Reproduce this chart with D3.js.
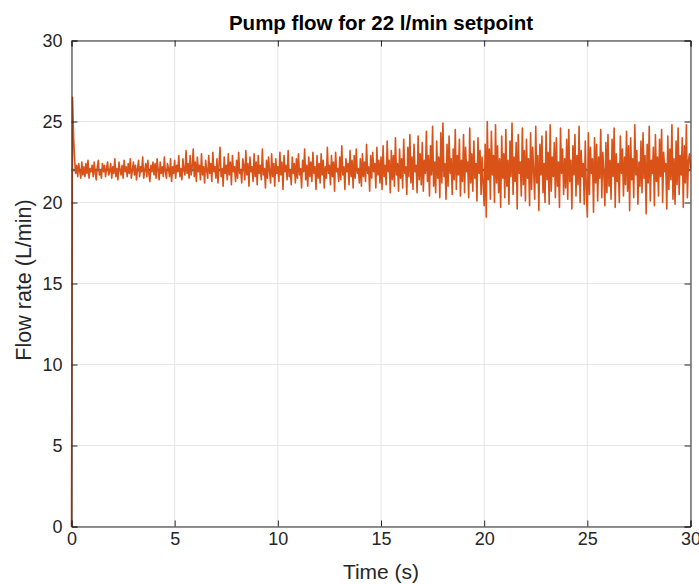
<!DOCTYPE html>
<html>
<head>
<meta charset="utf-8">
<script src="https://cdn.jsdelivr.net/npm/d3@7"></script>
<style>
  html, body { margin: 0; padding: 0; background: #fff; }
  svg { display: block; font-family: "Liberation Sans", Arial, Helvetica, sans-serif; }
</style>
</head>
<body>
<svg id="chart" width="699" height="584"></svg>
<script>
// ---- data ----
const title = "Pump flow for 22 l/min setpoint";
const xLabel = "Time (s)";
const yLabel = "Flow rate (L/min)";
const xTicks = [0, 5, 10, 15, 20, 25, 30];
const yTicks = [0, 5, 10, 15, 20, 25, 30];
const sampleInterval = 0.05; // s between flow samples
const setpointTime = [0, 30];
const setpointFlow = [22, 22];
const measuredFlow = [
  0, 26.5, 24.1, 22.6, 21.8, 22.3, 21.6, 22.4, 21.9, 21.5, 22.5, 21.7, 22.2, 21.6, 22.4, 21.8, 22.6, 21.5, 22.1, 21.9,
  22.3, 21.6, 22.5, 21.8, 21.4, 22.2, 22.6, 21.7, 22.0, 21.5, 22.4, 21.9, 22.3, 21.6, 22.1, 22.5, 21.7, 21.9, 22.4, 21.5,
  22.2, 21.8, 22.7, 21.6, 22.1, 21.4, 22.5, 22.0, 21.7, 22.3, 21.5, 22.6, 21.9, 22.2, 21.6, 22.4, 21.8, 22.7, 21.5, 22.0,
  22.5, 21.7, 22.3, 21.4, 22.1, 22.6, 21.6, 22.2, 21.9, 22.8, 21.5, 22.0, 22.4, 21.6, 22.6, 21.8, 21.3, 22.3, 21.9, 22.5,
  21.7, 22.4, 21.5, 22.7, 22.0, 21.4, 22.5, 21.8, 22.2, 21.6, 22.8, 21.9, 21.5, 22.4, 22.1, 21.6, 22.7, 21.3, 22.2, 21.8,
  22.6, 21.5, 22.3, 21.9, 22.9, 21.6, 22.1, 21.4, 22.7, 22.0, 21.7, 23.2, 21.8, 22.4, 21.5, 22.9, 21.7, 22.2, 23.3, 21.6,
  22.5, 21.3, 22.8, 21.9, 22.3, 21.4, 23.0, 21.7, 22.2, 21.2, 22.6, 22.0, 21.5, 22.9, 21.8, 22.4, 21.3, 23.1, 21.9, 22.2,
  21.5, 22.7, 21.2, 22.4, 23.4, 21.6, 22.1, 21.0, 22.8, 21.8, 22.3, 21.4, 23.0, 21.7, 22.5, 21.1, 22.9, 21.9, 22.2, 21.3,
  22.6, 21.5, 23.1, 21.8, 22.0, 21.2, 22.7, 22.3, 21.4, 23.2, 21.7, 22.4, 21.0, 22.8, 21.9, 22.2, 21.3, 23.0, 21.6, 22.5,
  21.1, 22.9, 21.8, 22.3, 21.4, 23.3, 21.7, 22.1, 20.9, 22.6, 21.5, 22.8, 21.9, 21.2, 23.0, 21.6, 22.4, 21.0, 22.7, 21.8,
  22.2, 21.3, 23.1, 21.7, 22.5, 20.8, 22.9, 21.9, 22.3, 21.4, 23.2, 21.6, 22.0, 21.1, 22.8, 21.8, 22.4, 21.2, 22.7, 21.5,
  23.0, 21.7, 22.1, 20.9, 22.6, 21.9, 23.3, 21.4, 22.3, 21.0, 22.8, 21.6, 22.5, 21.3, 23.1, 21.8, 22.2, 20.8, 22.9, 21.5,
  22.4, 21.2, 23.0, 21.7, 22.6, 20.9, 22.2, 21.5, 23.4, 21.8, 22.3, 21.1, 22.9, 21.6, 22.5, 20.7, 23.1, 21.9, 22.1, 21.3,
  22.8, 21.4, 23.5, 21.7, 22.2, 20.8, 22.7, 21.9, 22.4, 21.1, 23.2, 21.6, 22.6, 20.9, 22.9, 21.5, 23.3, 21.8, 22.1, 21.2,
  22.7, 21.0, 23.0, 21.6, 22.5, 21.3, 23.6, 21.8, 22.2, 20.7, 22.9, 21.5, 23.1, 21.9, 22.4, 20.9, 23.4, 21.7, 22.6, 21.2,
  22.8, 20.8, 23.5, 21.6, 22.3, 21.1, 23.8, 21.9, 22.6, 20.6, 23.2, 21.4, 22.9, 21.0, 24.0, 21.7, 22.4, 20.7, 23.3, 21.5,
  22.7, 20.9, 23.9, 21.8, 22.2, 20.5, 23.4, 21.6, 24.2, 21.2, 22.8, 20.8, 23.6, 21.9, 22.3, 20.6, 24.1, 21.4, 23.0, 21.1,
  23.7, 20.7, 22.6, 21.8, 24.4, 21.3, 22.9, 20.4, 23.5, 21.7, 24.7, 21.0, 22.5, 20.6, 23.8, 21.5, 22.8, 20.3, 24.3, 21.2,
  24.9, 21.6, 22.4, 20.2, 23.6, 21.0, 24.1, 21.8, 22.7, 20.5, 23.3, 21.4, 24.5, 20.8, 22.9, 21.7, 23.9, 20.4, 22.6, 21.3,
  24.2, 20.6, 23.4, 21.9, 22.5, 20.3, 24.6, 21.2, 23.0, 20.7, 23.8, 21.5, 22.4, 20.1, 24.0, 21.8, 23.2, 20.5, 22.8, 21.1,
  19.8, 23.6, 19.1, 25.0, 21.4, 23.3, 20.2, 24.4, 21.7, 22.9, 20.0, 24.8, 21.2, 23.5, 20.6, 22.7, 19.7, 24.1, 21.5, 23.0,
  20.3, 24.5, 21.0, 22.6, 19.9, 23.8, 21.6, 24.9, 20.5, 22.8, 21.3, 23.7, 19.6, 24.2, 21.8, 22.5, 20.4, 24.6, 21.1, 23.2,
  20.1, 23.9, 21.5, 22.7, 19.8, 24.3, 20.8, 23.4, 21.9, 20.2, 24.7, 21.2, 22.9, 19.5, 23.6, 21.7, 24.1, 20.6, 22.4, 20.0,
  24.4, 21.4, 23.1, 19.9, 24.8, 20.7, 22.8, 21.6, 23.7, 20.3, 24.0, 21.0, 22.5, 19.7, 24.6, 21.8, 23.3, 20.5, 22.7, 20.9,
  23.9, 20.2, 24.5, 21.3, 22.6, 19.6, 23.5, 21.7, 24.2, 20.4, 22.9, 21.1, 24.7, 20.0, 23.2, 21.6, 22.4, 19.9, 23.8, 20.8,
  19.1, 24.3, 20.5, 23.4, 21.8, 22.7, 19.4, 24.0, 21.2, 23.6, 20.1, 22.8, 21.5, 24.5, 20.3, 23.1, 21.9, 19.8, 23.7, 20.6,
  24.2, 21.0, 22.6, 20.2, 23.9, 21.6, 24.6, 19.7, 23.0, 21.3, 22.4, 20.0, 24.1, 21.8, 23.3, 20.4, 22.8, 21.1, 24.4, 20.7,
  23.5, 19.5, 24.0, 21.4, 22.7, 20.3, 24.8, 21.7, 23.2, 19.9, 22.5, 21.0, 23.8, 20.6, 24.3, 21.5, 22.9, 19.3, 23.6, 21.2,
  24.7, 20.1, 22.6, 21.8, 23.4, 19.8, 24.2, 21.3, 22.8, 20.4, 23.9, 21.6, 24.5, 20.0, 23.1, 21.9, 22.4, 19.6, 24.1, 20.8,
  23.3, 21.4, 24.8, 20.2, 22.7, 19.9, 23.8, 21.1, 24.6, 20.5, 22.9, 21.7, 24.0, 19.7, 23.5, 21.2, 24.8, 20.3, 22.6, 23.0,
  22.1
];

// ---- layout ----
const svg = d3.select("#chart");
const plotLeft = 71.5, plotRight = 690.5, plotTop = 40.5, plotBottom = 526.5;

const x = d3.scaleLinear().domain([0, 30]).range([plotLeft, plotRight]);
const y = d3.scaleLinear().domain([0, 30]).range([plotBottom, plotTop]);

const axisColor = "#262626";
const gridColor = "#e6e6e6";

// grid
const grid = svg.append("g");
grid.selectAll("line.vx").data(xTicks).join("line")
  .attr("x1", d => x(d)).attr("x2", d => x(d))
  .attr("y1", plotTop).attr("y2", plotBottom)
  .attr("stroke", gridColor).attr("stroke-width", 1);
grid.selectAll("line.hy").data(yTicks).join("line")
  .attr("y1", d => y(d)).attr("y2", d => y(d))
  .attr("x1", plotLeft).attr("x2", plotRight)
  .attr("stroke", gridColor).attr("stroke-width", 1);

// data lines
const plot = svg.append("g");
const spLine = d3.line().x((d, i) => x(setpointTime[i])).y(d => y(d));
plot.append("path").datum(setpointFlow)
  .attr("d", spLine)
  .attr("fill", "none").attr("stroke", "#0072BD").attr("stroke-width", 2.5);

const flowLine = d3.line().x((d, i) => x(i * sampleInterval)).y(d => y(d));
plot.append("path").datum(measuredFlow)
  .attr("d", flowLine)
  .attr("fill", "none").attr("stroke", "#D95319").attr("stroke-width", 1.6)
  .attr("stroke-linejoin", "round");

// axes
function styleAxis(g) {
  g.select(".domain").attr("stroke", axisColor).attr("fill", "none");
  g.selectAll(".tick line").attr("stroke", axisColor);
  g.selectAll(".tick text").attr("fill", axisColor)
    .style("font-family", '"Liberation Sans", Arial, sans-serif')
    .style("font-size", "18px");
}

svg.append("g").attr("transform", `translate(0,${plotBottom})`)
  .call(d3.axisBottom(x).tickValues(xTicks).tickSize(-6).tickPadding(6).tickFormat(d3.format("d")))
  .call(styleAxis);
svg.append("g").attr("transform", `translate(0,${plotTop})`)
  .call(d3.axisTop(x).tickValues(xTicks).tickSize(-6).tickFormat(""))
  .call(styleAxis);
svg.append("g").attr("transform", `translate(${plotLeft},0)`)
  .call(d3.axisLeft(y).tickValues(yTicks).tickSize(-6).tickPadding(9).tickFormat(d3.format("d")))
  .call(styleAxis);
svg.append("g").attr("transform", `translate(${plotRight},0)`)
  .call(d3.axisRight(y).tickValues(yTicks).tickSize(-6).tickFormat(""))
  .call(styleAxis);

// labels
svg.append("text")
  .attr("x", 381).attr("y", 30)
  .attr("text-anchor", "middle")
  .style("font-size", "20.5px").style("font-weight", "bold")
  .attr("fill", "#000")
  .text(title);

svg.append("text")
  .attr("x", 381).attr("y", 579)
  .attr("text-anchor", "middle")
  .style("font-size", "21px")
  .attr("fill", axisColor)
  .text(xLabel);

svg.append("text")
  .attr("transform", `translate(31,280) rotate(-90)`)
  .attr("text-anchor", "middle")
  .style("font-size", "21.5px")
  .attr("fill", axisColor)
  .text(yLabel);
</script>
</body>
</html>
